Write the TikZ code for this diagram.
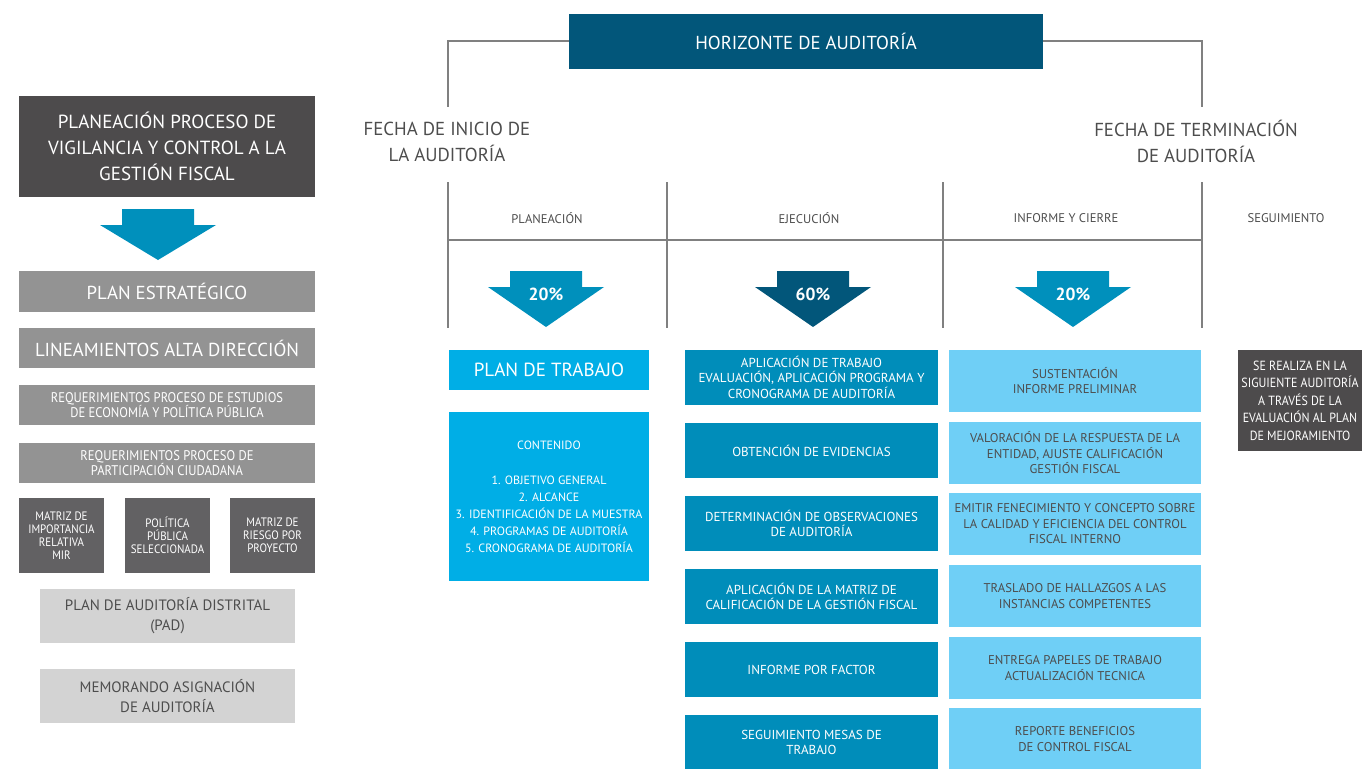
\documentclass[tikz,border=0pt]{standalone}
\usepackage{fontspec}
\setmainfont{PT Sans}
\newfontfamily\narrowfont[FakeStretch=0.9]{PT Sans}
\usetikzlibrary{positioning}

\definecolor{horizonblue}{HTML}{02567A}
\definecolor{phaseblue}{HTML}{008DBA}
\definecolor{arrowblue}{HTML}{0090BC}
\definecolor{brightblue}{HTML}{00AEE6}
\definecolor{paleblue}{HTML}{6FCFF6}
\definecolor{charcoal}{HTML}{4D4B4C}
\definecolor{midgray}{HTML}{939393}
\definecolor{slategray}{HTML}{626163}
\definecolor{lightgray}{HTML}{D3D3D3}
\definecolor{rulegray}{HTML}{808080}
\definecolor{inkgray}{HTML}{4D4D4D}

\begin{document}
\begin{tikzpicture}
[x=1pt,y=-1pt,
  boxbase/.style={shape=rectangle,inner sep=0pt,align=center},%
  darkbox/.style={boxbase,fill=charcoal,text=white},%
  graybox/.style={boxbase,fill=midgray,text=white,minimum width=296,minimum height=40},%
  matrixbox/.style={boxbase,fill=slategray,text=white,minimum width=85,minimum height=75,
    font=\narrowfont\fontsize{12.2}{12.8}\selectfont},%
  palegraybox/.style={boxbase,fill=lightgray,text=inkgray,minimum width=255,minimum height=54,
    font=\fontsize{15}{20}\selectfont},%
  planbox/.style={boxbase,fill=brightblue,text=white,minimum width=200},%
  execbox/.style={boxbase,fill=phaseblue,text=white,minimum width=253,minimum height=55,
    font=\fontsize{13}{15.5}\selectfont},%
  reportbox/.style={boxbase,fill=paleblue,text=inkgray,minimum width=252,minimum height=62,
    font=\fontsize{12.7}{15.5}\selectfont},%
  phaselabel/.style={text=inkgray,font=\fontsize{12.6}{14}\selectfont},%
  datelabel/.style={text=inkgray,align=center,font=\fontsize{18.8}{26}\selectfont},%
  percentlabel/.style={text=white,font=\bfseries\fontsize{17.5}{19}\selectfont},%
  ruleline/.style={-,draw=rulegray,line width=2pt}]
\useasboundingbox (0,0) rectangle (1362,768);
%% horizon and dates
\node (horizonte) at (806,41.5) [boxbase,fill=horizonblue,text=white,minimum width=474,minimum height=55,
  font=\fontsize{18.8}{22}\selectfont] {HORIZONTE DE AUDITORÍA};
\coordinate (inicioTop) at (448,107);
\coordinate (terminoTop) at (1202,107);
\draw[ruleline] (horizonte.west) -| (inicioTop);
\draw[ruleline] (horizonte.east) -| (terminoTop);
\node (inicio) at (447,141.5) [datelabel] {FECHA DE INICIO DE\\LA AUDITORÍA};
\node (termino) at (1196,141.5) [datelabel] {FECHA DE TERMINACIÓN\\DE AUDITORÍA};
%% phase grid
\foreach \colname/\x in {a/448, b/667, c/943, d/1202}
{
  \coordinate (\colname Top) at (\x,182);
  \coordinate (\colname Bot) at (\x,328);
  \draw[ruleline] (\colname Top) -- (\colname Bot);
}
\coordinate (gridLeft) at (448,240);
\coordinate (gridRight) at (1202,240);
\draw[ruleline] (gridLeft) -- (gridRight);
\foreach \nodename/\x/\txt in {planeacion/547/PLANEACIÓN, ejecucion/809/EJECUCIÓN,
  informe/1066/INFORME Y CIERRE, seguimiento/1286/SEGUIMIENTO}
{
  \node (\nodename) at (\x,218) [phaselabel] {\txt};
}
%% down arrows
\foreach \nodename/\x/\y/\tip/\col/\pct in {arrowGestion/158/209/51/arrowblue/{},
  arrowPlan/546/271/56/arrowblue/20\%, arrowEjec/813/271/56/horizonblue/60\%,
  arrowInf/1073/271/56/arrowblue/20\%}
{
  \fill[\col] (\x-36,\y) -- (\x+36,\y) -- (\x+36,\y+16) -- (\x+58,\y+16)
    -- (\x,\y+\tip) -- (\x-58,\y+16) -- (\x-36,\y+16) -- cycle;
  \node (\nodename) at (\x,\y+23) [percentlabel] {\pct};
}
%% left column
\node (gestion) at (167,146) [darkbox,minimum width=296,minimum height=101,
  font=\fontsize{19}{26}\selectfont] {PLANEACIÓN PROCESO DE\\VIGILANCIA Y CONTROL A LA\\GESTIÓN FISCAL};
\node (estrategico) at (167,291.5) [graybox,minimum height=41,font=\fontsize{18.8}{22}\selectfont] {PLAN ESTRATÉGICO};
\node (lineamientos) at (167,348) [graybox,font=\fontsize{18.8}{22}\selectfont] {LINEAMIENTOS ALTA DIRECCIÓN};
\node (estudios) at (167,405) [graybox,font=\narrowfont\fontsize{14}{14}\selectfont]
  {REQUERIMIENTOS PROCESO DE ESTUDIOS\\DE ECONOMÍA Y POLÍTICA PÚBLICA};
\node (participacion) at (167,463) [graybox,font=\narrowfont\fontsize{14}{14}\selectfont]
  {REQUERIMIENTOS PROCESO DE\\PARTICIPACIÓN CIUDADANA};
\foreach \nodename/\x/\txt in {mir/61.5/{MATRIZ DE\\IMPORTANCIA\\RELATIVA\\MIR},
  politica/167.5/{POLÍTICA\\PÚBLICA\\SELECCIONADA}, riesgo/272.5/{MATRIZ DE\\RIESGO POR\\PROYECTO}}
{
  \node (\nodename) at (\x,535.5) [matrixbox] {\txt};
}
\node (pad) at (167.5,616) [palegraybox] {PLAN DE AUDITORÍA DISTRITAL\\(PAD)};
\node (memorando) at (167.5,696) [palegraybox] {MEMORANDO ASIGNACIÓN\\DE AUDITORÍA};
%% planning column
\node (trabajo) at (549,370) [planbox,minimum height=40,font=\fontsize{19}{22}\selectfont] {PLAN DE TRABAJO};
\node (contenido) at (549,496.5) [planbox,minimum height=169,font=\fontsize{12}{17}\selectfont]
  {CONTENIDO\\[18pt]1. OBJETIVO GENERAL\\2. ALCANCE\\3. IDENTIFICACIÓN DE LA MUESTRA\\
  4. PROGRAMAS DE AUDITORÍA\\5. CRONOGRAMA DE AUDITORÍA};
%% execution column
\foreach \nodename/\y/\txt in {ejec1/377/{APLICACIÓN DE TRABAJO\\EVALUACIÓN, APLICACIÓN PROGRAMA Y\\CRONOGRAMA DE AUDITORÍA},
  ejec2/450.5/{OBTENCIÓN DE EVIDENCIAS}, ejec3/523.5/{DETERMINACIÓN DE OBSERVACIONES\\DE AUDITORÍA},
  ejec4/596.5/{APLICACIÓN DE LA MATRIZ DE\\CALIFICACIÓN DE LA GESTIÓN FISCAL},
  ejec5/669.5/{INFORME POR FACTOR}, ejec6/742.5/{SEGUIMIENTO MESAS DE\\TRABAJO}}
{
  \node (\nodename) at (811.5,\y) [execbox] {\txt};
}
%% report column
\foreach \nodename/\y/\txt in {inf1/380.5/{SUSTENTACIÓN\\INFORME PRELIMINAR},
  inf2/453/{VALORACIÓN DE LA RESPUESTA DE LA\\ENTIDAD, AJUSTE CALIFICACIÓN\\GESTIÓN FISCAL},
  inf3/524/{EMITIR FENECIMIENTO Y CONCEPTO SOBRE\\LA CALIDAD Y EFICIENCIA DEL CONTROL\\FISCAL INTERNO},
  inf4/596/{TRASLADO DE HALLAZGOS A LAS\\INSTANCIAS COMPETENTES},
  inf5/668/{ENTREGA PAPELES DE TRABAJO\\ACTUALIZACIÓN TECNICA},
  inf6/739/{REPORTE BENEFICIOS\\DE CONTROL FISCAL}}
{
  \node (\nodename) at (1075,\y) [reportbox] {\txt};
}
%% follow-up
\node (mejoramiento) at (1300,400.5) [darkbox,minimum width=124,minimum height=101,
  font=\narrowfont\fontsize{13.3}{17.5}\selectfont]
  {SE REALIZA EN LA\\SIGUIENTE AUDITORÍA\\A TRAVÉS DE LA\\EVALUACIÓN AL PLAN\\DE MEJORAMIENTO};
\end{tikzpicture}
\end{document}
